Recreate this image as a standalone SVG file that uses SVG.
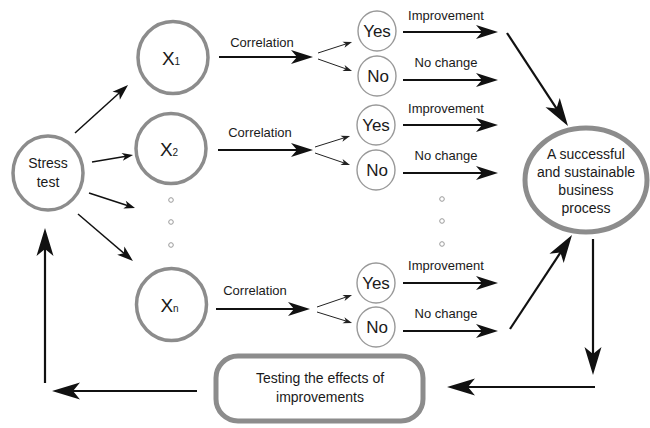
<svg xmlns="http://www.w3.org/2000/svg" width="650" height="428" viewBox="0 0 650 428">
  <style>
    text { font-family: "Liberation Sans", Arial, sans-serif; fill: #1a1a1a; text-anchor: middle; }
    .lbl { font-size: 13px; }
    .node-t { font-size: 14px; }
    .x { font-size: 19px; }
    .sub { font-size: 10px; }
    .yn { font-size: 17px; }
    .big { fill: #fff; stroke: #8c8c8c; stroke-width: 3.5; }
    .thick { fill: #fff; stroke: #8c8c8c; stroke-width: 5; }
    .thin { fill: #fff; stroke: #999; stroke-width: 1.4; }
    .dot { fill: none; stroke: #9a9a9a; stroke-width: 1; }
    .c2 { stroke: #111; stroke-width: 2.2; fill: none; }
    .c1 { stroke: #111; stroke-width: 1.5; fill: none; }
    .c0 { stroke: #222; stroke-width: 1; fill: none; }
  </style>
  <defs>
    <marker id="m-xl" markerUnits="userSpaceOnUse" viewBox="-19 -9 30 18" markerWidth="30" markerHeight="18" refX="0" refY="0" orient="auto">
      <path d="M10,0 L-18,-8.5 L-11,0 L-18,8.5 Z" fill="#111"/>
    </marker>
    <marker id="m-l" markerUnits="userSpaceOnUse" viewBox="-15 -8 24 16" markerWidth="24" markerHeight="16" refX="0" refY="0" orient="auto">
      <path d="M8,0 L-14,-7 L-8,0 L-14,7 Z" fill="#111"/>
    </marker>
    <marker id="m-m" markerUnits="userSpaceOnUse" viewBox="-11 -6 18 12" markerWidth="18" markerHeight="12" refX="0" refY="0" orient="auto">
      <path d="M6,0 L-10,-5.5 L-6,0 L-10,5.5 Z" fill="#111"/>
    </marker>
    <marker id="m-s" markerUnits="userSpaceOnUse" viewBox="-8 -5 13 10" markerWidth="13" markerHeight="10" refX="0" refY="0" orient="auto">
      <path d="M4,0 L-7,-4 L-4,0 L-7,4 Z" fill="#111"/>
    </marker>
    <marker id="m-xs" markerUnits="userSpaceOnUse" viewBox="-7 -4 11 8" markerWidth="11" markerHeight="8" refX="0" refY="0" orient="auto">
      <path d="M3,0 L-6,-3.2 L-3.5,0 L-6,3.2 Z" fill="#222"/>
    </marker>
  </defs>

  <!-- connectors -->
  <g id="connectors">
    <!-- stress test to factors -->
    <line class="c1" x1="75" y1="133" x2="123.6" y2="89" marker-end="url(#m-m)"/>
    <line class="c1" x1="92" y1="162" x2="129.1" y2="155.7" marker-end="url(#m-s)"/>
    <line class="c1" x1="89" y1="193" x2="131.2" y2="206.8" marker-end="url(#m-s)"/>
    <line class="c1" x1="78" y1="214" x2="128.4" y2="257.1" marker-end="url(#m-m)"/>

    <!-- correlation arrows -->
    <line class="c2" x1="219" y1="57" x2="305" y2="57" marker-end="url(#m-l)"/>
    <line class="c2" x1="218" y1="150" x2="305" y2="150" marker-end="url(#m-l)"/>
    <line class="c2" x1="216" y1="309" x2="302" y2="309" marker-end="url(#m-l)"/>

    <!-- forks to yes / no -->
    <line class="c0" x1="318" y1="53" x2="349.2" y2="42.9" marker-end="url(#m-xs)"/>
    <line class="c0" x1="318" y1="59" x2="349.2" y2="70" marker-end="url(#m-xs)"/>
    <line class="c0" x1="315" y1="147" x2="347.2" y2="136.9" marker-end="url(#m-xs)"/>
    <line class="c0" x1="315" y1="153" x2="347.2" y2="164" marker-end="url(#m-xs)"/>
    <line class="c0" x1="317" y1="307" x2="349.2" y2="296" marker-end="url(#m-xs)"/>
    <line class="c0" x1="317" y1="312" x2="349.2" y2="322" marker-end="url(#m-xs)"/>

    <!-- outcome arrows -->
    <line class="c2" x1="403" y1="32" x2="490" y2="32" marker-end="url(#m-l)"/>
    <line class="c2" x1="403" y1="80" x2="490" y2="80" marker-end="url(#m-l)"/>
    <line class="c2" x1="403" y1="125" x2="490" y2="125" marker-end="url(#m-l)"/>
    <line class="c2" x1="403" y1="173" x2="490" y2="173" marker-end="url(#m-l)"/>
    <line class="c2" x1="403" y1="283" x2="490" y2="283" marker-end="url(#m-l)"/>
    <line class="c2" x1="403" y1="331" x2="490" y2="331" marker-end="url(#m-l)"/>

    <!-- into the target process -->
    <line class="c2" x1="507" y1="33" x2="562.5" y2="117.6" marker-end="url(#m-xl)"/>
    <line class="c2" x1="510" y1="329" x2="566.5" y2="243.4" marker-end="url(#m-xl)"/>

    <!-- feedback loop -->
    <line class="c2" x1="593" y1="239" x2="593" y2="365" marker-end="url(#m-xl)"/>
    <line class="c2" x1="595" y1="387" x2="457" y2="387" marker-end="url(#m-xl)"/>
    <line class="c2" x1="197" y1="391" x2="62" y2="391" marker-end="url(#m-xl)"/>
    <line class="c2" x1="45" y1="383" x2="45" y2="238" marker-end="url(#m-xl)"/>
  </g>

  <!-- ellipsis dots -->
  <g id="dots-left">
    <circle class="dot" cx="171" cy="200" r="2.3"/>
    <circle class="dot" cx="171" cy="222" r="2.3"/>
    <circle class="dot" cx="171" cy="245" r="2.3"/>
  </g>
  <g id="dots-right">
    <circle class="dot" cx="442" cy="199" r="2.3"/>
    <circle class="dot" cx="442" cy="221" r="2.3"/>
    <circle class="dot" cx="442" cy="244" r="2.3"/>
  </g>

  <g id="stress-test">
    <ellipse class="big" cx="48" cy="173" rx="35" ry="37"/>
    <text class="node-t" x="48" y="168">Stress</text>
    <text class="node-t" x="48" y="187">test</text>
  </g>

  <g id="x1">
    <ellipse class="big" cx="173" cy="57.5" rx="35" ry="36"/>
    <text class="x" x="171" y="65">X<tspan class="sub">1</tspan></text>
  </g>
  <g id="x2">
    <ellipse class="big" cx="171" cy="148.5" rx="35" ry="35"/>
    <text class="x" x="169" y="156">X<tspan class="sub">2</tspan></text>
  </g>
  <g id="xn">
    <ellipse class="big" cx="171.5" cy="304.5" rx="35" ry="36"/>
    <text class="x" x="169.5" y="312">X<tspan class="sub">n</tspan></text>
  </g>

  <g id="yes1"><ellipse class="thin" cx="377" cy="31" rx="19" ry="20"/><text class="yn" x="377" y="37">Yes</text></g>
  <g id="no1"><ellipse class="thin" cx="377" cy="76" rx="19" ry="20"/><text class="yn" x="378" y="82">No</text></g>
  <g id="yes2"><ellipse class="thin" cx="376" cy="125" rx="19" ry="20"/><text class="yn" x="376" y="131">Yes</text></g>
  <g id="no2"><ellipse class="thin" cx="376" cy="170" rx="19" ry="20"/><text class="yn" x="377" y="176">No</text></g>
  <g id="yes3"><ellipse class="thin" cx="376" cy="283" rx="19" ry="20"/><text class="yn" x="376" y="289">Yes</text></g>
  <g id="no3"><ellipse class="thin" cx="376" cy="327" rx="19" ry="20"/><text class="yn" x="377" y="333">No</text></g>

  <g id="labels">
    <text class="lbl" x="262" y="47">Correlation</text>
    <text class="lbl" x="260" y="137">Correlation</text>
    <text class="lbl" x="255" y="295">Correlation</text>
    <text class="lbl" x="446" y="20">Improvement</text>
    <text class="lbl" x="446" y="67">No change</text>
    <text class="lbl" x="446" y="113">Improvement</text>
    <text class="lbl" x="446" y="160">No change</text>
    <text class="lbl" x="446" y="270">Improvement</text>
    <text class="lbl" x="446" y="318">No change</text>
  </g>

  <g id="business-process">
    <ellipse class="thick" cx="586" cy="180" rx="61" ry="52"/>
    <text class="node-t" x="586" y="159">A successful</text>
    <text class="node-t" x="586" y="177">and sustainable</text>
    <text class="node-t" x="586" y="195">business</text>
    <text class="node-t" x="586" y="213">process</text>
  </g>

  <g id="testing">
    <rect class="thick" x="216" y="356" width="207" height="65" rx="22" ry="22"/>
    <text x="320" y="383" style="font-size:14px">Testing the effects of</text>
    <text x="320" y="402" style="font-size:14px">improvements</text>
  </g>
</svg>
